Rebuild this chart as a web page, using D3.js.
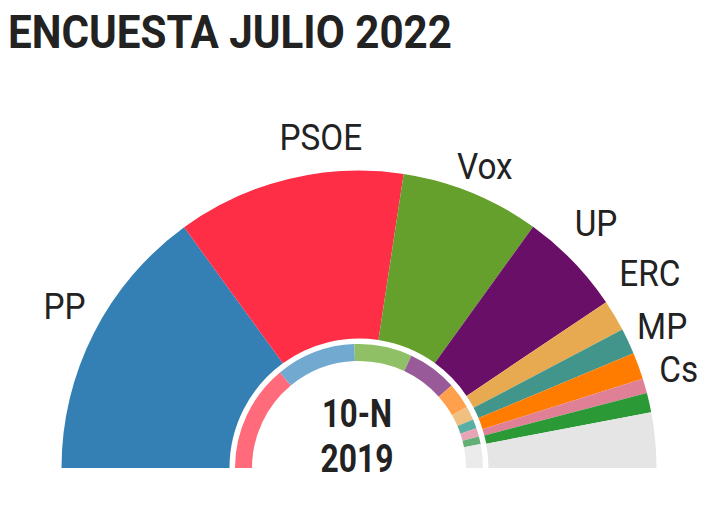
<!DOCTYPE html>
<html>
<head>
<meta charset="utf-8">
<script src="https://cdn.jsdelivr.net/npm/d3@7"></script>
<style>
  body { margin: 0; background: #fff; }
  svg { display: block; font-family: Roboto, sans-serif; }
</style>
</head>
<body>
<svg id="chart"></svg>
<script>
// encuesta julio 2022 (% voto)
const parties = ["PP", "PSOE", "Vox", "UP", "ERC", "MP", "Cs", "JxCat", "PNV", "Otros"];
const poll = [30.0, 24.8, 15.1, 11.3, 3.4, 2.8, 2.9, 1.6, 2.1, 6.0];
const pollColors = ["#3480b4", "#fe2e46", "#65a02c", "#6a0f68", "#e8aa50", "#41958a", "#ff7c00", "#e08096", "#2a9936", "#e5e5e5"];
const labelled = ["PP", "PSOE", "Vox", "UP", "ERC", "MP", "Cs"];

// resultado 10-N 2019
const parties2019 = ["PSOE", "PP", "Vox", "UP", "Cs", "ERC", "MP", "JxCat", "PNV", "Otros"];
const result2019 = [28.0, 20.8, 15.1, 12.9, 6.8, 3.6, 2.4, 2.2, 2.0, 6.2];
const colors2019 = ["#ff6b7a", "#72a9d0", "#8fc065", "#985a98", "#ffa04c", "#f0c080", "#5aafa5", "#e8a4b4", "#62b075", "#ebebeb"];

const title = "ENCUESTA JULIO 2022";
const centerText = ["10-N", "2019"];

const width = 720, height = 522;
const cx = 359, cy = 468;
const rOuter = 297.5, rInnerPie = 129.5;
const rRingOut = 124, rRingIn = 107;
const rLabel = 335;
// small manual shifts so labels don't collide
const labelNudge = {PP: [4, -10], PSOE: [41, -6], Vox: [-1, 8], UP: [-4, -13], ERC: [3, -24], MP: [0, 0], Cs: [5, 16]};

const svg = d3.select("#chart")
	.attr("width", width)
	.attr("height", height);

svg.append("text")
	.attr("x", 8)
	.attr("y", 48)
	.attr("font-size", 46)
	.attr("font-weight", 700)
	.attr("fill", "#222")
	.attr("textLength", 444)
	.attr("lengthAdjust", "spacingAndGlyphs")
	.text(title);

const pie = d3.pie()
	.sort(null)
	.value(d => d.v)
	.startAngle(-Math.PI / 2)
	.endAngle(Math.PI / 2);

const g = svg.append("g").attr("transform", `translate(${cx},${cy})`);

const outerData = pie(parties.map((p, i) => ({p, v: poll[i], c: pollColors[i]})));
const innerData = pie(parties2019.map((p, i) => ({p, v: result2019[i], c: colors2019[i]})));

const arcOuter = d3.arc().innerRadius(rInnerPie).outerRadius(rOuter);
const arcRing = d3.arc().innerRadius(rRingIn).outerRadius(rRingOut);
const arcLabel = d3.arc().innerRadius(rLabel).outerRadius(rLabel);

g.selectAll("path.outer")
	.data(outerData)
	.enter().append("path")
	.attr("class", "outer")
	.attr("d", arcOuter)
	.attr("fill", d => d.data.c);

g.selectAll("path.ring")
	.data(innerData)
	.enter().append("path")
	.attr("class", "ring")
	.attr("d", arcRing)
	.attr("fill", d => d.data.c);

// narrow the glyphs a bit, the original uses a condensed face
const condense = (sel, k) => sel.each(function() {
	const w = this.getComputedTextLength();
	d3.select(this)
		.attr("textLength", w * k)
		.attr("lengthAdjust", "spacingAndGlyphs");
});

g.selectAll("text.lbl")
	.data(outerData.filter(d => labelled.includes(d.data.p)))
	.enter().append("text")
	.attr("class", "lbl")
	.attr("transform", d => {
		const [x, y] = arcLabel.centroid(d);
		const n = labelNudge[d.data.p];
		return `translate(${x + n[0]},${y + n[1]})`;
	})
	.attr("text-anchor", "middle")
	.attr("dy", "0.36em")
	.attr("font-size", 37)
	.attr("fill", "#222")
	.text(d => d.data.p)
	.call(condense, 0.9);

g.selectAll("text.center")
	.data(centerText)
	.enter().append("text")
	.attr("class", "center")
	.attr("x", -2)
	.attr("y", (d, i) => -41 + i * 45)
	.attr("text-anchor", "middle")
	.attr("font-size", 39)
	.attr("font-weight", 700)
	.attr("fill", "#222")
	.attr("textLength", (d, i) => i ? 73 : 70)
	.attr("lengthAdjust", "spacingAndGlyphs")
	.text(d => d);
</script>
</body>
</html>
